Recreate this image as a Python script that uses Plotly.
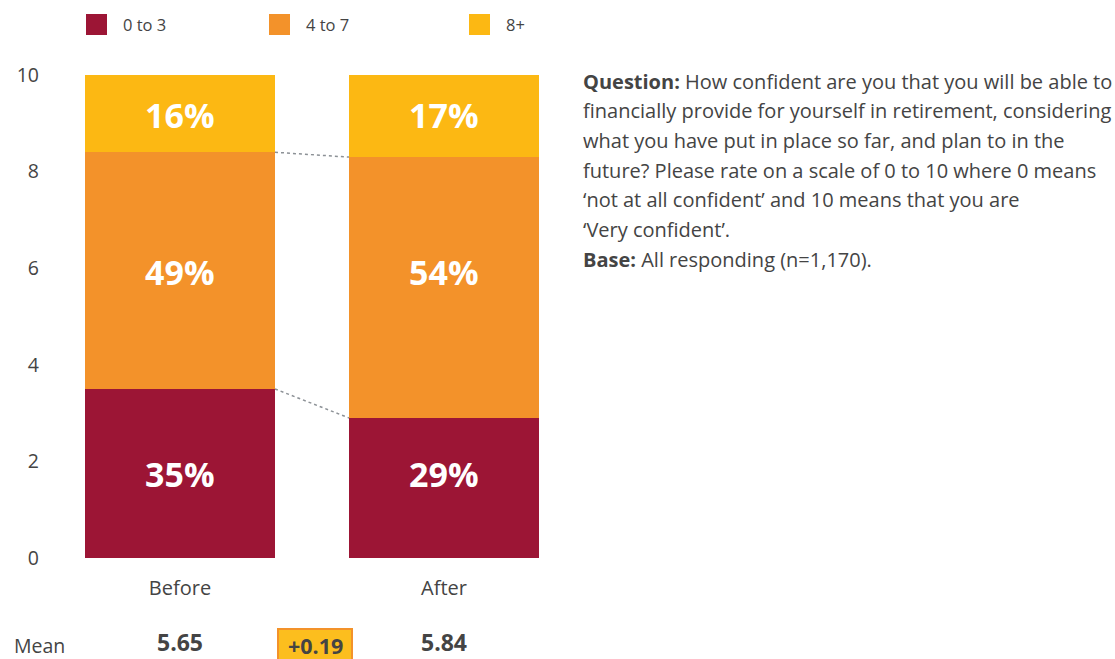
import plotly.graph_objects as go

# Survey waves and score bands
groups = ["Before", "After"]
band_names = ["0 to 3", "4 to 7", "8+"]
band_colors = ["#9C1535", "#F3922A", "#FCB813"]

# Share of respondents in each band (%)
low_pct = [35, 29]
mid_pct = [49, 54]
high_pct = [16, 17]

# Mean confidence score per wave
mean_scores = [5.65, 5.84]

y_ticks = [0, 2, 4, 6, 8, 10]

question_lines = [
    "<b>Question:</b> How confident are you that you will be able to",
    "financially provide for yourself in retirement, considering",
    "what you have put in place so far, and plan to in the",
    "future? Please rate on a scale of 0 to 10 where 0 means",
    "\u2018not at all confident\u2019 and 10 means that you are",
    "\u2018Very confident\u2019.",
    "<b>Base:</b> All responding (n=1,170).",
]

FONT = "Open Sans"
TEXT = "#444444"
W, H = 1115, 659
L, R, T, B = 85, 576, 75, 101
plot_w = W - L - R
plot_h = H - T - B
bar_w = 190 / 264
x_pos = list(range(len(groups)))


def px(x):
    return (x - L) / plot_w


def py(y):
    return (H - B - y) / plot_h


fig = go.Figure()
series = [low_pct, mid_pct, high_pct]
for name, color, pct in zip(band_names, band_colors, series):
    fig.add_trace(go.Bar(
        x=x_pos,
        y=[p / 10 for p in pct],
        width=[bar_w] * len(x_pos),
        name=name,
        marker=dict(color=color, line=dict(width=0)),
        hoverinfo="skip",
        showlegend=False,
    ))

shapes = []
annotations = []

# Percentage labels, set on a common row per band (the first bar's band centres)
base = 0
for pct in series:
    row_y = (base + pct[0] / 2) / 10
    for xi, p in zip(x_pos, pct):
        annotations.append(dict(
            x=xi, y=row_y, xref="x", yref="y",
            text=f"<b>{p}%</b>", showarrow=False,
            xanchor="center", yanchor="middle", yshift=-1,
            font=dict(family=FONT, size=34, color="white"),
        ))
    base += pct[0]

# Dotted connectors between band boundaries of the two bars
for cum in ([low_pct[0], low_pct[1]],
            [low_pct[0] + mid_pct[0], low_pct[1] + mid_pct[1]]):
    shapes.append(dict(
        type="line", xref="x", yref="y",
        x0=x_pos[0] + bar_w / 2, x1=x_pos[1] - bar_w / 2,
        y0=cum[0] / 10, y1=cum[1] / 10,
        line=dict(color="#8C9196", width=1.5, dash="dot"),
    ))

# Legend drawn as swatches with labels
legend_x = [86, 269, 469]
for name, color, lx in zip(band_names, band_colors, legend_x):
    shapes.append(dict(
        type="rect", xref="paper", yref="paper",
        x0=px(lx), x1=px(lx + 21), y0=py(35), y1=py(14),
        fillcolor=color, line=dict(width=0),
    ))
    annotations.append(dict(
        x=px(lx + 35), y=py(25), xref="paper", yref="paper",
        text=name, showarrow=False, xanchor="left", yanchor="middle",
        font=dict(family=FONT, size=16.5, color=TEXT),
    ))

# Question text block
for i, line in enumerate(question_lines):
    annotations.append(dict(
        x=px(581), y=py(81 + i * 29.7), xref="paper", yref="paper",
        text=line, showarrow=False, xanchor="left", yanchor="middle",
        font=dict(family=FONT, size=20, color=TEXT),
    ))

# Mean row
annotations.append(dict(
    x=px(12), y=py(645), xref="paper", yref="paper",
    text="Mean", showarrow=False, xanchor="left", yanchor="middle",
    font=dict(family=FONT, size=19.5, color=TEXT),
))
for xi, m in zip(x_pos, mean_scores):
    annotations.append(dict(
        x=xi, y=py(659), xref="x", yref="paper",
        text=f"<b>{m:.2f}</b>", showarrow=False, xanchor="center", yanchor="bottom",
        borderpad=0,
        font=dict(family=FONT, size=23, color=TEXT),
    ))

change = mean_scores[1] - mean_scores[0]
shapes.append(dict(
    type="rect", xref="paper", yref="paper",
    x0=px(278), x1=px(352), y0=py(668), y1=py(629),
    fillcolor="#FCBE1E", line=dict(color="#F3922A", width=2),
))
annotations.append(dict(
    x=px(315), y=py(645), xref="paper", yref="paper",
    text=f"<b>{change:+.2f}</b>", showarrow=False, xanchor="center", yanchor="middle",
    font=dict(family=FONT, size=21.5, color=TEXT),
))

fig.update_layout(
    width=W, height=H,
    margin=dict(l=L, r=R, t=T, b=B, autoexpand=False),
    barmode="stack",
    plot_bgcolor="white", paper_bgcolor="white",
    font=dict(family=FONT, color=TEXT),
    shapes=shapes,
    annotations=annotations,
    showlegend=False,
    xaxis=dict(
        range=[-bar_w / 2, x_pos[-1] + bar_w / 2],
        tickvals=x_pos, ticktext=groups,
        showgrid=False, zeroline=False, showline=False, ticks="",
        tickfont=dict(family=FONT, size=20, color=TEXT),
        ticklabelstandoff=16,
        fixedrange=True,
    ),
    yaxis=dict(
        range=[0, 10],
        tickvals=y_ticks,
        showgrid=False, zeroline=False, showline=False, ticks="",
        tickfont=dict(family=FONT, size=19.5, color=TEXT),
        ticklabelstandoff=45,
        fixedrange=True,
    ),
)

fig.write_html("out.html")
